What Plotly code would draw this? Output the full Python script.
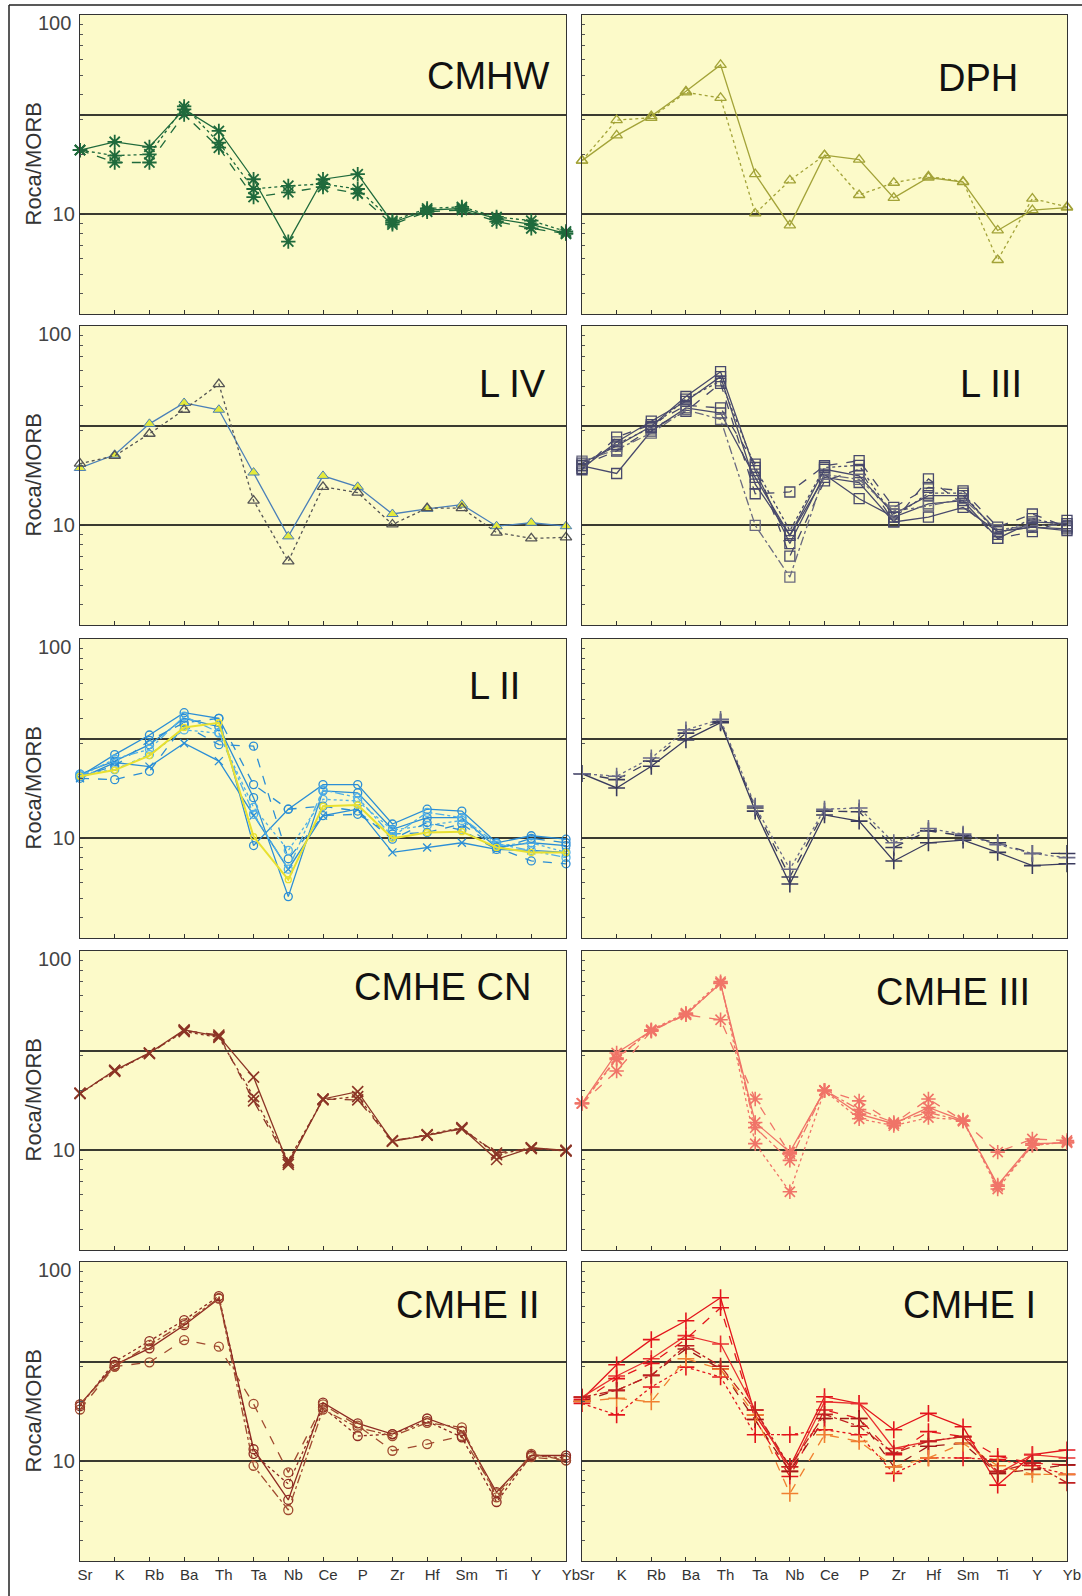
import plotly.graph_objects as go

# ---------------- data ----------------
elements = ["Sr", "K", "Rb", "Ba", "Th", "Ta", "Nb", "Ce", "P", "Zr", "Hf", "Sm", "Ti", "Y", "Yb"]
y_tick_vals = [10, 31.62, 100]
y_tick_text = ["10", "", ""]
top_label = "100"
panel_titles = ["CMHW", "DPH", "L IV", "L III", "L II", "", "CMHE CN", "CMHE III", "CMHE II", "CMHE I"]
y_title = "Roca/MORB"

cmhw = [
    [21.0, 23.1, 21.8, 33.6, 26.2, 15.0, 7.3, 15.0, 15.9, 9.1, 10.5, 10.7, 9.5, 8.9, 8.0],
    [21.0, 18.2, 18.2, 31.7, 21.6, 12.2, 12.9, 13.7, 12.7, 8.9, 10.3, 10.5, 9.2, 8.5, 8.0],
    [21.0, 19.7, 20.0, 34.8, 22.9, 13.4, 13.9, 14.2, 13.4, 9.3, 10.7, 10.9, 9.7, 9.3, 8.2],
]
dph = [
    [18.6, 24.9, 31.1, 41.4, 56.2, 15.9, 8.8, 19.8, 18.8, 12.1, 15.3, 14.5, 8.3, 10.5, 10.8],
    [18.6, 29.7, 30.5, 40.9, 38.4, 10.1, 14.8, 19.8, 12.5, 14.4, 15.5, 14.6, 5.9, 12.0, 10.9],
]
l_iv = [
    [19.4, 22.6, 32.3, 41.1, 38.0, 18.4, 8.8, 17.7, 15.6, 11.4, 12.1, 12.7, 9.9, 10.3, 9.9],
    [20.4, 22.3, 28.8, 38.0, 51.1, 13.3, 6.6, 15.6, 14.6, 10.1, 12.2, 12.2, 9.2, 8.6, 8.7],
]
l_iii = [
    [19.9, 18.2, 29.7, 38.8, 36.6, 17.4, 8.9, 17.4, 16.4, 10.4, 11.0, 12.3, 9.3, 9.8, 9.6],
    [20.5, 25.0, 31.4, 44.3, 59.0, 18.8, 8.1, 18.0, 13.6, 11.0, 12.8, 13.3, 8.6, 10.4, 10.2],
    [19.3, 26.2, 33.3, 41.9, 55.7, 16.1, 8.9, 19.1, 17.7, 11.4, 14.1, 14.1, 9.3, 9.8, 9.4],
    [20.0, 23.6, 30.5, 37.3, 51.6, 14.4, 14.7, 19.9, 21.1, 12.3, 15.5, 14.9, 9.8, 11.4, 9.8],
    [19.0, 27.7, 32.0, 40.0, 38.8, 20.3, 7.0, 16.7, 19.1, 10.4, 17.1, 12.8, 8.6, 9.3, 10.6],
    [21.0, 24.0, 29.0, 38.0, 34.0, 10.0, 5.5, 18.0, 17.0, 11.8, 12.5, 13.6, 9.5, 10.0, 10.0],
    [20.0, 25.5, 31.0, 43.0, 53.0, 19.5, 9.4, 19.5, 20.0, 11.0, 14.5, 14.5, 9.0, 10.8, 9.9],
]
l_ii = [
    [20.5, 26.3, 33.0, 42.7, 40.0, 9.2, 14.0, 18.6, 18.6, 11.8, 14.0, 13.7, 9.5, 10.3, 9.9],
    [21.0, 24.4, 29.5, 40.0, 36.3, 16.0, 5.1, 17.3, 16.9, 11.1, 12.7, 12.7, 9.0, 9.5, 9.2],
    [20.0, 24.0, 22.9, 30.0, 24.4, 13.0, 7.0, 13.0, 14.0, 8.5, 9.0, 9.5, 8.8, 8.7, 8.5],
    [20.0, 19.7, 21.7, 37.0, 29.5, 29.0, 7.9, 13.0, 13.2, 10.5, 10.7, 11.8, 9.0, 7.7, 7.45],
    [21.0, 22.1, 26.3, 35.0, 33.7, 14.3, 8.7, 15.7, 15.4, 11.0, 11.6, 12.3, 9.2, 9.5, 8.5],
    [20.5, 23.0, 31.0, 38.0, 40.0, 18.6, 14.0, 14.5, 13.7, 9.9, 12.0, 11.0, 8.8, 10.0, 9.5],
    [20.5, 25.0, 28.0, 41.0, 34.0, 13.2, 7.0, 17.5, 16.0, 10.2, 13.5, 12.7, 9.4, 8.7, 8.0],
    [20.5, 22.0, 26.0, 36.0, 38.0, 10.2, 6.2, 14.5, 14.7, 10.0, 10.7, 10.8, 9.0, 8.5, 8.5],
]
group_plus = [
    [21.1, 17.9, 23.0, 31.2, 38.0, 13.7, 5.9, 13.1, 12.2, 7.7, 9.5, 9.8, 8.5, 7.3, 7.45],
    [21.1, 19.7, 24.4, 33.7, 38.5, 14.2, 6.4, 13.7, 13.6, 9.0, 10.9, 10.3, 9.5, 8.4, 8.4],
    [21.1, 20.5, 25.3, 35.0, 39.5, 14.5, 7.0, 14.0, 14.2, 9.5, 11.2, 10.5, 9.3, 8.4, 8.0],
]
cmhe_cn = [
    [19.3, 25.2, 30.8, 40.2, 37.3, 23.3, 8.5, 18.1, 19.7, 11.1, 11.9, 12.9, 9.0, 10.3, 10.0],
    [19.3, 25.2, 30.5, 39.9, 37.9, 17.7, 8.7, 18.1, 17.9, 11.2, 11.9, 12.8, 9.7, 10.2, 10.0],
    [19.3, 24.9, 30.8, 39.4, 36.9, 18.6, 8.9, 17.9, 18.6, 11.1, 12.0, 13.0, 9.5, 10.3, 9.9],
]
cmhe_iii = [
    [17.2, 30.8, 39.8, 48.2, 68.8, 13.8, 9.8, 20.0, 15.2, 13.6, 16.4, 14.1, 6.7, 10.8, 10.9],
    [17.2, 25.0, 39.6, 47.9, 45.2, 18.1, 9.6, 20.0, 17.7, 13.6, 18.1, 14.1, 9.8, 11.4, 11.2],
    [17.2, 28.6, 40.3, 48.8, 70.2, 10.8, 6.2, 19.9, 14.4, 13.3, 14.6, 14.2, 6.4, 10.6, 11.0],
    [17.2, 29.0, 40.0, 48.0, 69.0, 13.0, 8.9, 20.0, 16.0, 13.8, 15.5, 14.0, 6.6, 10.6, 11.0],
]
cmhe_ii = [
    [19.3, 30.5, 36.9, 48.2, 65.5, 11.5, 6.4, 19.7, 15.5, 13.7, 16.4, 14.2, 7.0, 10.7, 10.7],
    [18.2, 29.9, 31.4, 40.6, 37.6, 19.4, 8.8, 19.3, 15.1, 11.3, 12.2, 13.4, 6.9, 10.5, 10.1],
    [18.9, 31.6, 40.1, 51.1, 67.5, 10.9, 7.7, 18.6, 13.4, 13.7, 15.9, 13.2, 6.25, 10.7, 10.4],
    [19.3, 29.9, 38.4, 49.2, 66.0, 9.5, 5.7, 18.2, 14.8, 13.4, 15.6, 14.8, 6.6, 10.9, 10.1],
]
cmhe_i = [
    [20.5, 30.5, 40.8, 50.7, 66.2, 17.1, 9.4, 21.1, 19.5, 14.4, 17.4, 14.9, 7.6, 10.8, 11.4],
    [21.0, 26.8, 32.7, 42.7, 38.8, 18.1, 8.9, 19.9, 19.5, 11.6, 12.6, 13.3, 8.7, 10.8, 10.4],
    [20.0, 26.0, 31.0, 41.0, 59.0, 16.2, 8.4, 18.1, 16.4, 10.8, 14.1, 13.3, 10.6, 9.8, 9.6],
    [20.0, 22.7, 27.0, 36.6, 29.1, 16.2, 8.9, 16.4, 16.4, 9.4, 11.9, 12.3, 8.7, 9.1, 9.6],
    [19.5, 17.1, 23.6, 29.7, 26.5, 13.6, 13.6, 14.4, 13.6, 8.7, 10.4, 10.4, 10.2, 9.5, 8.6],
    [20.0, 20.7, 19.9, 32.7, 29.0, 17.1, 6.9, 13.6, 12.6, 9.4, 10.4, 12.3, 9.5, 8.6, 8.6],
    [21.0, 22.7, 27.0, 38.0, 30.0, 18.1, 9.4, 17.2, 15.0, 11.0, 12.6, 13.3, 8.9, 9.8, 7.8],
]

# ---------------- styles ----------------
def st(color, dash, symbol, size=9, fill=None, lw=1.3, mlw=1.3):
    return dict(color=color, dash=dash, symbol=symbol, size=size, fill=fill, lw=lw, mlw=mlw)

G = "#1f6a3c"
O = "#a3a338"
NV = "#48496c"
BL = "#2b8ed6"
NP = "#3a3b5e"
BR = "#8c3526"
SA = "#f07468"
RB = "#8e2a22"
RD = "#e3141c"

panels = [
    (cmhw, [st(G, "solid", "asterisk-open", 12, mlw=1.8), st(G, "dash", "asterisk-open", 12, mlw=1.8),
            st(G, "dot", "asterisk-open", 12, mlw=1.8)]),
    (dph, [st(O, "solid", "triangle-up-open", 10), st(O, "dot", "triangle-up-open", 10)]),
    (l_iv, [st("#4a7fb8", "solid", "triangle-up", 10, fill="#e4ea3c"), st("#555555", "dot", "triangle-up-open", 10)]),
    (l_iii, [st(NV, "solid", "square-open", 10), st(NV, "solid", "square-open", 10), st(NV, "solid", "square-open", 10),
             st(NV, "dash", "square-open", 10), st(NV, "dash", "square-open", 10),
             st("#6a6a80", "dashdot", "square-open", 10), st(NV, "dot", "square-open", 10)]),
    (l_ii, [st(BL, "solid", "circle-open", 8), st(BL, "solid", "circle-open", 8), st(BL, "solid", "x-thin-open", 8),
            st(BL, "dash", "circle-open", 8), st("#4fb0e8", "dot", "circle-open", 8),
            st(BL, "dash", "circle-open", 8), st("#4fb0e8", "dashdot", "circle-open", 8),
            st("#e8e030", "solid", "circle-open", 6, lw=2)]),
    (group_plus, [st(NP, "solid", "cross-thin-open", 12, mlw=1.6), st(NP, "dash", "cross-thin-open", 12, mlw=1.6),
                  st("#6a6a88", "dot", "cross-thin-open", 12, mlw=1.6)]),
    (cmhe_cn, [st(BR, "solid", "x-thin-open", 11, mlw=1.6), st(BR, "dash", "x-thin-open", 11, mlw=1.6),
               st(BR, "dot", "x-thin-open", 11, mlw=1.6)]),
    (cmhe_iii, [st(SA, "solid", "asterisk-open", 12, mlw=1.6), st(SA, "dash", "asterisk-open", 12, mlw=1.6),
                st(SA, "dot", "asterisk-open", 12, mlw=1.6), st(SA, "dashdot", "asterisk-open", 12, mlw=1.6)]),
    (cmhe_ii, [st(RB, "solid", "circle-open", 9), st("#a04a30", "dash", "circle-open", 9),
               st(RB, "dot", "circle-open", 9), st("#a04a30", "dashdot", "circle-open", 9)]),
    (cmhe_i, [st(RD, "solid", "cross-thin-open", 12, mlw=1.6), st("#e83030", "solid", "cross-thin-open", 12, mlw=1.6),
              st(RD, "dash", "cross-thin-open", 12, mlw=1.6), st("#a01818", "dash", "cross-thin-open", 12, mlw=1.6),
              st(RD, "dot", "cross-thin-open", 12, mlw=1.6), st("#f08030", "dash", "cross-thin-open", 12, mlw=1.6),
              st("#c02020", "dashdot", "cross-thin-open", 12, mlw=1.6)]),
]

W, H = 1082, 1596
col_px = [(80, 566), (582, 1067)]
row_px = [(15, 314), (326, 625), (639, 938), (951, 1250), (1262, 1561)]
title_pos = [(552, 76), (1020, 78), (548, 384), (1024, 384), (522, 686),
             (1000, 686), (533, 987), (1032, 992), (542, 1305), (1038, 1305)]

fig = go.Figure()
xs = list(range(len(elements)))

for k, (series, styles) in enumerate(panels):
    ax = "" if k == 0 else str(k + 1)
    for vals, s in zip(series, styles):
        marker = dict(symbol=s["symbol"], size=s["size"],
                      color=s["fill"] if s["fill"] else s["color"],
                      line=dict(color=s["color"], width=s["mlw"] if not s["fill"] else 1))
        fig.add_trace(go.Scatter(
            x=xs, y=vals, mode="lines+markers", xaxis="x" + ax, yaxis="y" + ax,
            line=dict(color=s["color"], width=s["lw"], dash=s["dash"]),
            marker=marker, cliponaxis=False, showlegend=False, hoverinfo="skip"))

layout = dict(width=W, height=H, margin=dict(l=0, r=0, t=0, b=0),
              paper_bgcolor="white", plot_bgcolor="#fcfac9", showlegend=False,
              font=dict(family="Liberation Sans, Arial, sans-serif", color="#222"))

annotations = []
shapes = []
for k in range(10):
    r, c = divmod(k, 2)
    x0, x1 = col_px[c]
    y0, y1 = row_px[r]
    ax = "" if k == 0 else str(k + 1)
    xname = "xaxis" + ax
    yname = "yaxis" + ax
    layout[xname] = dict(domain=[x0 / W, x1 / W], range=[0, 14], anchor="y" + ax,
                         tickmode="array", tickvals=xs, ticktext=elements,
                         ticks="inside", ticklen=4, tickcolor="#333", tickwidth=1,
                         showticklabels=(r == 4), tickfont=dict(size=15, color="#333"),
                         ticklabelshift=5,
                         showgrid=False, zeroline=False, showline=True, mirror=True,
                         linecolor="#333", linewidth=1.3, automargin=False, fixedrange=True)
    layout[yname] = dict(domain=[1 - y1 / H, 1 - y0 / H], type="log", range=[0.5, 2.0],
                         anchor="x" + ax, tickmode="array", tickvals=y_tick_vals, ticktext=y_tick_text,
                         ticks="inside", ticklen=5, tickcolor="#333",
                         showticklabels=(c == 0), tickfont=dict(size=20, color="#444"),
                         showgrid=True, gridcolor="#3a3a30", gridwidth=1.5,
                         minor=dict(tickmode="array", tickvals=[4, 5, 6, 7, 8, 9, 20, 30, 40, 50, 60, 70, 80, 90],
                                    ticks="inside", ticklen=3, tickcolor="#555", showgrid=False),
                         zeroline=False, showline=True, mirror=True,
                         linecolor="#333", linewidth=1.3, automargin=False, fixedrange=True)
    if panel_titles[k]:
        tx, ty = title_pos[k]
        annotations.append(dict(text=panel_titles[k], x=tx / W, y=1 - ty / H, xref="paper", yref="paper",
                                xanchor="right", yanchor="middle", showarrow=False,
                                font=dict(size=38, color="#111")))
    if c == 0:
        annotations.append(dict(text=y_title, x=33 / W, y=1 - (y0 + y1) / 2 / H, xref="paper", yref="paper",
                                xanchor="center", yanchor="middle", textangle=-90, showarrow=False,
                                font=dict(size=22, color="#333")))
        annotations.append(dict(text=top_label, x=73 / W, y=1 - (y0 + 8) / H, xref="paper", yref="paper",
                                xanchor="right", yanchor="middle", showarrow=False,
                                font=dict(size=20, color="#444")))

# outer frame (left and top edges)
shapes.append(dict(type="line", xref="paper", yref="paper", x0=9 / W, x1=9 / W, y0=0, y1=1 - 5 / H,
                   line=dict(color="#222", width=1.5)))
shapes.append(dict(type="line", xref="paper", yref="paper", x0=9 / W, x1=1, y0=1 - 5 / H, y1=1 - 5 / H,
                   line=dict(color="#222", width=1.5)))

layout["annotations"] = annotations
layout["shapes"] = shapes
fig.update_layout(**layout)
fig.write_html("out.html")
